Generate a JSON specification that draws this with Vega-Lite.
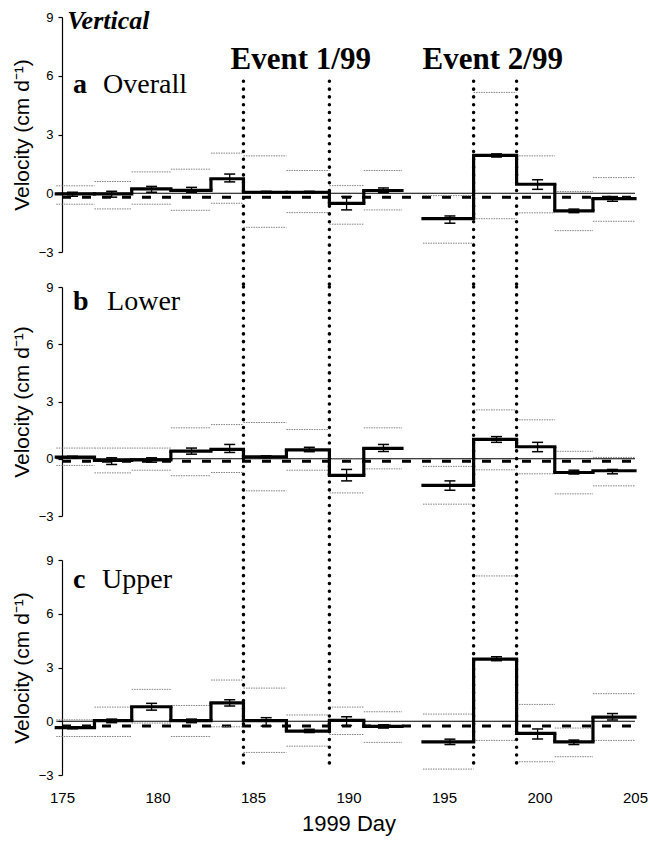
{
"$schema": "https://vega.github.io/schema/vega-lite/v6.json",
"padding": {"left": 11, "top": 7, "right": 0, "bottom": 5},
"config": {
  "view": {"stroke": null},
  "font": "Liberation Sans",
  "axis": {"grid": false, "labelFont": "Liberation Sans", "titleFont": "Liberation Sans", "labelColor": "#000", "titleColor": "#000", "domainColor": "#000", "tickColor": "#000", "titleFontWeight": "normal"}
},
"datasets": {
  "seg": [
    {"panel":"a","x1":174.7,"x2":176.7,"xm":175.55,"v":-0.03,"lo":-0.15,"hi":0.05,"up":0.38,"dn":-0.56},
    {"panel":"a","x1":176.7,"x2":178.65,"xm":177.6,"v":-0.03,"lo":-0.2,"hi":0.1,"up":0.6,"dn":-0.8},
    {"panel":"a","x1":178.65,"x2":180.7,"xm":179.69,"v":0.22,"lo":0.05,"hi":0.35,"up":1.09,"dn":-0.56},
    {"panel":"a","x1":180.7,"x2":182.8,"xm":181.78,"v":0.15,"lo":0.05,"hi":0.3,"up":1.23,"dn":-0.87},
    {"panel":"a","x1":182.8,"x2":184.5,"xm":183.78,"v":0.74,"lo":0.58,"hi":0.98,"up":2.05,"dn":-0.51},
    {"panel":"a","x1":184.5,"x2":186.75,"xm":185.69,"v":0.05,"lo":0.0,"hi":0.1,"up":1.91,"dn":-1.74},
    {"panel":"a","x1":186.75,"x2":189.0,"xm":187.95,"v":0.05,"lo":0.0,"hi":0.1,"up":1.16,"dn":-0.99},
    {"panel":"a","x1":189.0,"x2":190.8,"xm":189.9,"v":-0.52,"lo":-0.85,"hi":-0.17,"up":0.39,"dn":-1.58},
    {"panel":"a","x1":190.8,"x2":192.8,"xm":191.83,"v":0.14,"lo":0.03,"hi":0.27,"up":1.16,"dn":-0.85},
    {"panel":"a","x1":193.9,"x2":196.55,"xm":195.31,"v":-1.3,"lo":-1.53,"hi":-1.16,"up":-0.12,"dn":-2.55},
    {"panel":"a","x1":196.55,"x2":198.8,"xm":197.75,"v":1.93,"lo":1.85,"hi":2.01,"up":5.15,"dn":-1.3},
    {"panel":"a","x1":198.8,"x2":200.8,"xm":199.9,"v":0.46,"lo":0.2,"hi":0.69,"up":1.91,"dn":-1.0},
    {"panel":"a","x1":200.8,"x2":202.8,"xm":201.8,"v":-0.9,"lo":-0.99,"hi":-0.81,"up":0.09,"dn":-1.91},
    {"panel":"a","x1":202.8,"x2":205.0,"xm":203.82,"v":-0.27,"lo":-0.41,"hi":-0.17,"up":0.8,"dn":-1.43},

    {"panel":"b","x1":174.7,"x2":176.7,"xm":175.55,"v":0.08,"lo":0.02,"hi":0.13,"up":0.56,"dn":-0.35},
    {"panel":"b","x1":176.7,"x2":178.65,"xm":177.6,"v":-0.08,"lo":-0.3,"hi":0.05,"up":0.56,"dn":-0.74},
    {"panel":"b","x1":178.65,"x2":180.7,"xm":179.69,"v":-0.06,"lo":-0.18,"hi":0.05,"up":0.56,"dn":-0.6},
    {"panel":"b","x1":180.7,"x2":182.8,"xm":181.78,"v":0.4,"lo":0.24,"hi":0.56,"up":1.62,"dn":-0.89},
    {"panel":"b","x1":182.8,"x2":184.5,"xm":183.78,"v":0.49,"lo":0.33,"hi":0.75,"up":1.79,"dn":-0.72},
    {"panel":"b","x1":184.5,"x2":186.75,"xm":185.69,"v":0.1,"lo":0.05,"hi":0.15,"up":1.9,"dn":-1.68},
    {"panel":"b","x1":186.75,"x2":189.0,"xm":187.95,"v":0.47,"lo":0.37,"hi":0.6,"up":1.53,"dn":-0.6},
    {"panel":"b","x1":189.0,"x2":190.8,"xm":189.9,"v":-0.87,"lo":-1.16,"hi":-0.56,"up":0.0,"dn":-1.79},
    {"panel":"b","x1":190.8,"x2":192.8,"xm":191.83,"v":0.54,"lo":0.38,"hi":0.75,"up":1.62,"dn":-0.53},
    {"panel":"b","x1":193.9,"x2":196.55,"xm":195.31,"v":-1.4,"lo":-1.65,"hi":-1.16,"up":-0.4,"dn":-2.38},
    {"panel":"b","x1":196.55,"x2":198.8,"xm":197.75,"v":1.02,"lo":0.86,"hi":1.16,"up":2.56,"dn":-0.58},
    {"panel":"b","x1":198.8,"x2":200.8,"xm":199.9,"v":0.63,"lo":0.37,"hi":0.86,"up":2.04,"dn":-0.79},
    {"panel":"b","x1":200.8,"x2":202.8,"xm":201.8,"v":-0.72,"lo":-0.8,"hi":-0.6,"up":0.39,"dn":-1.84},
    {"panel":"b","x1":202.8,"x2":205.0,"xm":203.82,"v":-0.63,"lo":-0.79,"hi":-0.56,"up":0.07,"dn":-1.42},

    {"panel":"c","x1":174.7,"x2":176.7,"xm":175.55,"v":-0.36,"lo":-0.42,"hi":-0.3,"up":0.08,"dn":-0.85},
    {"panel":"c","x1":176.7,"x2":178.65,"xm":177.6,"v":0.03,"lo":-0.08,"hi":0.12,"up":0.79,"dn":-0.85},
    {"panel":"c","x1":178.65,"x2":180.7,"xm":179.69,"v":0.81,"lo":0.62,"hi":1.0,"up":1.78,"dn":-0.1},
    {"panel":"c","x1":180.7,"x2":182.8,"xm":181.78,"v":0.03,"lo":-0.08,"hi":0.12,"up":0.88,"dn":-0.85},
    {"panel":"c","x1":182.8,"x2":184.5,"xm":183.78,"v":1.03,"lo":0.85,"hi":1.2,"up":2.3,"dn":-0.31},
    {"panel":"c","x1":184.5,"x2":186.75,"xm":185.69,"v":0.03,"lo":-0.27,"hi":0.2,"up":1.85,"dn":-1.74},
    {"panel":"c","x1":186.75,"x2":189.0,"xm":187.95,"v":-0.55,"lo":-0.63,"hi":-0.45,"up":0.35,"dn":-1.39},
    {"panel":"c","x1":189.0,"x2":190.8,"xm":189.9,"v":0.05,"lo":-0.24,"hi":0.25,"up":0.79,"dn":-0.74},
    {"panel":"c","x1":190.8,"x2":192.8,"xm":191.83,"v":-0.29,"lo":-0.38,"hi":-0.2,"up":0.53,"dn":-1.18},
    {"panel":"c","x1":193.9,"x2":196.55,"xm":195.31,"v":-1.15,"lo":-1.3,"hi":-1.0,"up":0.4,"dn":-2.67},
    {"panel":"c","x1":196.55,"x2":198.8,"xm":197.75,"v":3.47,"lo":3.38,"hi":3.6,"up":8.11,"dn":-1.07},
    {"panel":"c","x1":198.8,"x2":200.8,"xm":199.9,"v":-0.68,"lo":-0.99,"hi":-0.43,"up":0.94,"dn":-2.26},
    {"panel":"c","x1":200.8,"x2":202.8,"xm":201.8,"v":-1.15,"lo":-1.3,"hi":-1.05,"up":-0.38,"dn":-1.98},
    {"panel":"c","x1":202.8,"x2":205.0,"xm":203.82,"v":0.23,"lo":0.07,"hi":0.43,"up":1.54,"dn":-1.07}
  ],
  "refs": [
    {"panel":"a","kind":"zero","y":0,"x1":174.7,"x2":205},
    {"panel":"a","kind":"mean","y":-0.2,"x1":175,"x2":205},
    {"panel":"b","kind":"zero","y":0,"x1":174.7,"x2":205},
    {"panel":"b","kind":"mean","y":-0.13,"x1":175,"x2":205},
    {"panel":"c","kind":"zero","y":0,"x1":174.7,"x2":205},
    {"panel":"c","kind":"mean","y":-0.27,"x1":175,"x2":205}
  ],
  "events": [
    {"panel":"a","x":184.5,"top":5.72,"bottom":-4.79},
    {"panel":"a","x":189.0,"top":5.72,"bottom":-4.79},
    {"panel":"a","x":196.55,"top":5.72,"bottom":-4.79},
    {"panel":"a","x":198.8,"top":5.72,"bottom":-4.79},
    {"panel":"b","x":184.5,"top":9,"bottom":-5.28},
    {"panel":"b","x":189.0,"top":9,"bottom":-5.28},
    {"panel":"b","x":196.55,"top":9,"bottom":-5.28},
    {"panel":"b","x":198.8,"top":9,"bottom":-5.28},
    {"panel":"c","x":184.5,"top":9,"bottom":-2.71},
    {"panel":"c","x":189.0,"top":9,"bottom":-2.71},
    {"panel":"c","x":196.55,"top":9,"bottom":-2.71},
    {"panel":"c","x":198.8,"top":9,"bottom":-2.71}
  ],
  "labels": [
    {"panel":"a","kind":"title","x":175.27,"y":8.41,"text":"Vertical"},
    {"panel":"a","kind":"letter","x":175.57,"y":5.11,"text":"a"},
    {"panel":"a","kind":"name","x":177.15,"y":5.11,"text":"Overall"},
    {"panel":"a","kind":"event","x":187.5,"y":6.32,"text":"Event 1/99"},
    {"panel":"a","kind":"event","x":197.55,"y":6.32,"text":"Event 2/99"},
    {"panel":"b","kind":"letter","x":175.58,"y":7.77,"text":"b"},
    {"panel":"b","kind":"name","x":177.36,"y":7.77,"text":"Lower"},
    {"panel":"c","kind":"letter","x":175.57,"y":7.45,"text":"c"},
    {"panel":"c","kind":"name","x":177.1,"y":7.45,"text":"Upper"}
  ]
},
"bounds": "flush",
"spacing": 35,
"vconcat": [
  {
    "width": 573, "height": 235,
    "layer": [
      {"data": {"name": "refs"}, "transform": [{"filter": "datum.panel == 'a' && datum.kind == 'zero'"}],
       "mark": {"type": "rule", "color": "#000", "strokeWidth": 1},
       "encoding": {"x": {"field": "x1", "type": "quantitative", "scale": {"domain": [175, 205], "nice": false, "zero": false}, "axis": null},
                    "x2": {"field": "x2"},
                    "y": {"field": "y", "type": "quantitative", "scale": {"domain": [-3, 9], "nice": false, "zero": false}, "axis": {"values": [-3, 0, 3, 6, 9], "title": "Velocity (cm d⁻¹)", "labelFontSize": 13, "titleFontSize": 21, "tickSize": 4, "labelPadding": 5, "titlePadding": 6, "domainWidth": 1.2, "tickWidth": 1.2}}}},
      {"data": {"name": "refs"}, "transform": [{"filter": "datum.panel == 'a' && datum.kind == 'mean'"}],
       "mark": {"type": "rule", "color": "#000", "strokeWidth": 3, "strokeDash": [9, 11]},
       "encoding": {"x": {"field": "x1", "type": "quantitative", "scale": {"domain": [175, 205], "nice": false, "zero": false}, "axis": null},
                    "x2": {"field": "x2"},
                    "y": {"field": "y", "type": "quantitative", "scale": {"domain": [-3, 9], "nice": false, "zero": false}, "axis": {"values": [-3, 0, 3, 6, 9], "title": "Velocity (cm d⁻¹)", "labelFontSize": 13, "titleFontSize": 21, "tickSize": 4, "labelPadding": 5, "titlePadding": 6, "domainWidth": 1.2, "tickWidth": 1.2}}}},
      {"data": {"name": "seg"}, "transform": [{"filter": "datum.panel == 'a'"}, {"fold": ["up", "dn"], "as": ["bound", "bv"]}],
       "mark": {"type": "rule", "color": "#808080", "strokeWidth": 1, "strokeDash": [1.5, 1]},
       "encoding": {"x": {"field": "x1", "type": "quantitative", "scale": {"domain": [175, 205], "nice": false, "zero": false}, "axis": null},
                    "x2": {"field": "x2"},
                    "y": {"field": "bv", "type": "quantitative", "scale": {"domain": [-3, 9], "nice": false, "zero": false}, "axis": {"values": [-3, 0, 3, 6, 9], "title": "Velocity (cm d⁻¹)", "labelFontSize": 13, "titleFontSize": 21, "tickSize": 4, "labelPadding": 5, "titlePadding": 6, "domainWidth": 1.2, "tickWidth": 1.2}}}},
      {"data": {"name": "seg"}, "transform": [{"filter": "datum.panel == 'a'"}],
       "mark": {"type": "rule", "color": "#000", "strokeWidth": 3.2, "strokeCap": "square"},
       "encoding": {"x": {"field": "x1", "type": "quantitative", "scale": {"domain": [175, 205], "nice": false, "zero": false}, "axis": null},
                    "x2": {"field": "x2"},
                    "y": {"field": "v", "type": "quantitative", "scale": {"domain": [-3, 9], "nice": false, "zero": false}, "axis": {"values": [-3, 0, 3, 6, 9], "title": "Velocity (cm d⁻¹)", "labelFontSize": 13, "titleFontSize": 21, "tickSize": 4, "labelPadding": 5, "titlePadding": 6, "domainWidth": 1.2, "tickWidth": 1.2}}}},
      {"data": {"name": "seg"}, "transform": [{"filter": "datum.panel == 'a'"},
         {"window": [{"op": "lag", "field": "v", "as": "pv"}, {"op": "lag", "field": "x2", "as": "px2"}], "sort": [{"field": "x1"}]},
         {"filter": "datum.px2 != null && abs(datum.px2 - datum.x1) < 0.01"}],
       "mark": {"type": "rule", "color": "#000", "strokeWidth": 3.2},
       "encoding": {"x": {"field": "x1", "type": "quantitative", "scale": {"domain": [175, 205], "nice": false, "zero": false}, "axis": null},
                    "y": {"field": "pv", "type": "quantitative", "scale": {"domain": [-3, 9], "nice": false, "zero": false}, "axis": {"values": [-3, 0, 3, 6, 9], "title": "Velocity (cm d⁻¹)", "labelFontSize": 13, "titleFontSize": 21, "tickSize": 4, "labelPadding": 5, "titlePadding": 6, "domainWidth": 1.2, "tickWidth": 1.2}},
                    "y2": {"field": "v"}}},
      {"data": {"name": "seg"}, "transform": [{"filter": "datum.panel == 'a'"}],
       "mark": {"type": "rule", "color": "#000", "strokeWidth": 1.3},
       "encoding": {"x": {"field": "xm", "type": "quantitative", "scale": {"domain": [175, 205], "nice": false, "zero": false}, "axis": null},
                    "y": {"field": "lo", "type": "quantitative", "scale": {"domain": [-3, 9], "nice": false, "zero": false}, "axis": {"values": [-3, 0, 3, 6, 9], "title": "Velocity (cm d⁻¹)", "labelFontSize": 13, "titleFontSize": 21, "tickSize": 4, "labelPadding": 5, "titlePadding": 6, "domainWidth": 1.2, "tickWidth": 1.2}},
                    "y2": {"field": "hi"}}},
      {"data": {"name": "seg"}, "transform": [{"filter": "datum.panel == 'a'"}, {"fold": ["lo", "hi"], "as": ["end", "ev"]}],
       "mark": {"type": "tick", "orient": "horizontal", "color": "#000", "size": 11, "thickness": 1.5, "opacity": 1},
       "encoding": {"x": {"field": "xm", "type": "quantitative", "scale": {"domain": [175, 205], "nice": false, "zero": false}, "axis": null},
                    "y": {"field": "ev", "type": "quantitative", "scale": {"domain": [-3, 9], "nice": false, "zero": false}, "axis": {"values": [-3, 0, 3, 6, 9], "title": "Velocity (cm d⁻¹)", "labelFontSize": 13, "titleFontSize": 21, "tickSize": 4, "labelPadding": 5, "titlePadding": 6, "domainWidth": 1.2, "tickWidth": 1.2}}}},
      {"data": {"name": "events"}, "transform": [{"filter": "datum.panel == 'a'"}],
       "mark": {"type": "rule", "color": "#000", "strokeWidth": 3.5, "strokeDash": [0.1, 7.7], "strokeCap": "round"},
       "encoding": {"x": {"field": "x", "type": "quantitative", "scale": {"domain": [175, 205], "nice": false, "zero": false}, "axis": null},
                    "y": {"field": "top", "type": "quantitative", "scale": {"domain": [-3, 9], "nice": false, "zero": false}, "axis": {"values": [-3, 0, 3, 6, 9], "title": "Velocity (cm d⁻¹)", "labelFontSize": 13, "titleFontSize": 21, "tickSize": 4, "labelPadding": 5, "titlePadding": 6, "domainWidth": 1.2, "tickWidth": 1.2}},
                    "y2": {"field": "bottom"}}},
      {"data": {"name": "labels"}, "transform": [{"filter": "datum.panel == 'a' && datum.kind == 'title'"}],
       "mark": {"type": "text", "font": "Liberation Serif", "fontSize": 26, "fontWeight": "bold", "fontStyle": "italic", "align": "left", "baseline": "alphabetic", "color": "#000"},
       "encoding": {"x": {"field": "x", "type": "quantitative", "scale": {"domain": [175, 205], "nice": false, "zero": false}, "axis": null},
                    "y": {"field": "y", "type": "quantitative", "scale": {"domain": [-3, 9], "nice": false, "zero": false}, "axis": {"values": [-3, 0, 3, 6, 9], "title": "Velocity (cm d⁻¹)", "labelFontSize": 13, "titleFontSize": 21, "tickSize": 4, "labelPadding": 5, "titlePadding": 6, "domainWidth": 1.2, "tickWidth": 1.2}},
                    "text": {"field": "text"}}},
      {"data": {"name": "labels"}, "transform": [{"filter": "datum.panel == 'a' && datum.kind == 'letter'"}],
       "mark": {"type": "text", "font": "Liberation Serif", "fontSize": 28, "fontWeight": "bold", "align": "left", "baseline": "alphabetic", "color": "#000"},
       "encoding": {"x": {"field": "x", "type": "quantitative", "scale": {"domain": [175, 205], "nice": false, "zero": false}, "axis": null},
                    "y": {"field": "y", "type": "quantitative", "scale": {"domain": [-3, 9], "nice": false, "zero": false}, "axis": {"values": [-3, 0, 3, 6, 9], "title": "Velocity (cm d⁻¹)", "labelFontSize": 13, "titleFontSize": 21, "tickSize": 4, "labelPadding": 5, "titlePadding": 6, "domainWidth": 1.2, "tickWidth": 1.2}},
                    "text": {"field": "text"}}},
      {"data": {"name": "labels"}, "transform": [{"filter": "datum.panel == 'a' && datum.kind == 'name'"}],
       "mark": {"type": "text", "font": "Liberation Serif", "fontSize": 28, "fontWeight": "normal", "align": "left", "baseline": "alphabetic", "color": "#000"},
       "encoding": {"x": {"field": "x", "type": "quantitative", "scale": {"domain": [175, 205], "nice": false, "zero": false}, "axis": null},
                    "y": {"field": "y", "type": "quantitative", "scale": {"domain": [-3, 9], "nice": false, "zero": false}, "axis": {"values": [-3, 0, 3, 6, 9], "title": "Velocity (cm d⁻¹)", "labelFontSize": 13, "titleFontSize": 21, "tickSize": 4, "labelPadding": 5, "titlePadding": 6, "domainWidth": 1.2, "tickWidth": 1.2}},
                    "text": {"field": "text"}}},
      {"data": {"name": "labels"}, "transform": [{"filter": "datum.panel == 'a' && datum.kind == 'event'"}],
       "mark": {"type": "text", "font": "Liberation Serif", "fontSize": 31, "fontWeight": "bold", "align": "center", "baseline": "alphabetic", "color": "#000"},
       "encoding": {"x": {"field": "x", "type": "quantitative", "scale": {"domain": [175, 205], "nice": false, "zero": false}, "axis": null},
                    "y": {"field": "y", "type": "quantitative", "scale": {"domain": [-3, 9], "nice": false, "zero": false}, "axis": {"values": [-3, 0, 3, 6, 9], "title": "Velocity (cm d⁻¹)", "labelFontSize": 13, "titleFontSize": 21, "tickSize": 4, "labelPadding": 5, "titlePadding": 6, "domainWidth": 1.2, "tickWidth": 1.2}},
                    "text": {"field": "text"}}}
    ]
  },
  {
    "bounds": "flush",
    "spacing": 44,
    "vconcat": [
      {
        "width": 573, "height": 229,
        "layer": [
          {"data": {"name": "refs"}, "transform": [{"filter": "datum.panel == 'b' && datum.kind == 'zero'"}],
           "mark": {"type": "rule", "color": "#000", "strokeWidth": 1},
           "encoding": {"x": {"field": "x1", "type": "quantitative", "scale": {"domain": [175, 205], "nice": false, "zero": false}, "axis": null},
                        "x2": {"field": "x2"},
                        "y": {"field": "y", "type": "quantitative", "scale": {"domain": [-3, 9], "nice": false, "zero": false}, "axis": {"values": [-3, 0, 3, 6, 9], "title": "Velocity (cm d⁻¹)", "labelFontSize": 13, "titleFontSize": 21, "tickSize": 4, "labelPadding": 5, "titlePadding": 6, "domainWidth": 1.2, "tickWidth": 1.2}}}},
          {"data": {"name": "refs"}, "transform": [{"filter": "datum.panel == 'b' && datum.kind == 'mean'"}],
           "mark": {"type": "rule", "color": "#000", "strokeWidth": 3, "strokeDash": [9, 11]},
           "encoding": {"x": {"field": "x1", "type": "quantitative", "scale": {"domain": [175, 205], "nice": false, "zero": false}, "axis": null},
                        "x2": {"field": "x2"},
                        "y": {"field": "y", "type": "quantitative", "scale": {"domain": [-3, 9], "nice": false, "zero": false}, "axis": {"values": [-3, 0, 3, 6, 9], "title": "Velocity (cm d⁻¹)", "labelFontSize": 13, "titleFontSize": 21, "tickSize": 4, "labelPadding": 5, "titlePadding": 6, "domainWidth": 1.2, "tickWidth": 1.2}}}},
          {"data": {"name": "seg"}, "transform": [{"filter": "datum.panel == 'b'"}, {"fold": ["up", "dn"], "as": ["bound", "bv"]}],
           "mark": {"type": "rule", "color": "#808080", "strokeWidth": 1, "strokeDash": [1.5, 1]},
           "encoding": {"x": {"field": "x1", "type": "quantitative", "scale": {"domain": [175, 205], "nice": false, "zero": false}, "axis": null},
                        "x2": {"field": "x2"},
                        "y": {"field": "bv", "type": "quantitative", "scale": {"domain": [-3, 9], "nice": false, "zero": false}, "axis": {"values": [-3, 0, 3, 6, 9], "title": "Velocity (cm d⁻¹)", "labelFontSize": 13, "titleFontSize": 21, "tickSize": 4, "labelPadding": 5, "titlePadding": 6, "domainWidth": 1.2, "tickWidth": 1.2}}}},
          {"data": {"name": "seg"}, "transform": [{"filter": "datum.panel == 'b'"}],
           "mark": {"type": "rule", "color": "#000", "strokeWidth": 3.2, "strokeCap": "square"},
           "encoding": {"x": {"field": "x1", "type": "quantitative", "scale": {"domain": [175, 205], "nice": false, "zero": false}, "axis": null},
                        "x2": {"field": "x2"},
                        "y": {"field": "v", "type": "quantitative", "scale": {"domain": [-3, 9], "nice": false, "zero": false}, "axis": {"values": [-3, 0, 3, 6, 9], "title": "Velocity (cm d⁻¹)", "labelFontSize": 13, "titleFontSize": 21, "tickSize": 4, "labelPadding": 5, "titlePadding": 6, "domainWidth": 1.2, "tickWidth": 1.2}}}},
          {"data": {"name": "seg"}, "transform": [{"filter": "datum.panel == 'b'"},
             {"window": [{"op": "lag", "field": "v", "as": "pv"}, {"op": "lag", "field": "x2", "as": "px2"}], "sort": [{"field": "x1"}]},
             {"filter": "datum.px2 != null && abs(datum.px2 - datum.x1) < 0.01"}],
           "mark": {"type": "rule", "color": "#000", "strokeWidth": 3.2},
           "encoding": {"x": {"field": "x1", "type": "quantitative", "scale": {"domain": [175, 205], "nice": false, "zero": false}, "axis": null},
                        "y": {"field": "pv", "type": "quantitative", "scale": {"domain": [-3, 9], "nice": false, "zero": false}, "axis": {"values": [-3, 0, 3, 6, 9], "title": "Velocity (cm d⁻¹)", "labelFontSize": 13, "titleFontSize": 21, "tickSize": 4, "labelPadding": 5, "titlePadding": 6, "domainWidth": 1.2, "tickWidth": 1.2}},
                        "y2": {"field": "v"}}},
          {"data": {"name": "seg"}, "transform": [{"filter": "datum.panel == 'b'"}],
           "mark": {"type": "rule", "color": "#000", "strokeWidth": 1.3},
           "encoding": {"x": {"field": "xm", "type": "quantitative", "scale": {"domain": [175, 205], "nice": false, "zero": false}, "axis": null},
                        "y": {"field": "lo", "type": "quantitative", "scale": {"domain": [-3, 9], "nice": false, "zero": false}, "axis": {"values": [-3, 0, 3, 6, 9], "title": "Velocity (cm d⁻¹)", "labelFontSize": 13, "titleFontSize": 21, "tickSize": 4, "labelPadding": 5, "titlePadding": 6, "domainWidth": 1.2, "tickWidth": 1.2}},
                        "y2": {"field": "hi"}}},
          {"data": {"name": "seg"}, "transform": [{"filter": "datum.panel == 'b'"}, {"fold": ["lo", "hi"], "as": ["end", "ev"]}],
           "mark": {"type": "tick", "orient": "horizontal", "color": "#000", "size": 11, "thickness": 1.5, "opacity": 1},
           "encoding": {"x": {"field": "xm", "type": "quantitative", "scale": {"domain": [175, 205], "nice": false, "zero": false}, "axis": null},
                        "y": {"field": "ev", "type": "quantitative", "scale": {"domain": [-3, 9], "nice": false, "zero": false}, "axis": {"values": [-3, 0, 3, 6, 9], "title": "Velocity (cm d⁻¹)", "labelFontSize": 13, "titleFontSize": 21, "tickSize": 4, "labelPadding": 5, "titlePadding": 6, "domainWidth": 1.2, "tickWidth": 1.2}}}},
          {"data": {"name": "events"}, "transform": [{"filter": "datum.panel == 'b'"}],
           "mark": {"type": "rule", "color": "#000", "strokeWidth": 3.5, "strokeDash": [0.1, 7.7], "strokeCap": "round"},
           "encoding": {"x": {"field": "x", "type": "quantitative", "scale": {"domain": [175, 205], "nice": false, "zero": false}, "axis": null},
                        "y": {"field": "top", "type": "quantitative", "scale": {"domain": [-3, 9], "nice": false, "zero": false}, "axis": {"values": [-3, 0, 3, 6, 9], "title": "Velocity (cm d⁻¹)", "labelFontSize": 13, "titleFontSize": 21, "tickSize": 4, "labelPadding": 5, "titlePadding": 6, "domainWidth": 1.2, "tickWidth": 1.2}},
                        "y2": {"field": "bottom"}}},
          {"data": {"name": "labels"}, "transform": [{"filter": "datum.panel == 'b' && datum.kind == 'letter'"}],
           "mark": {"type": "text", "font": "Liberation Serif", "fontSize": 28, "fontWeight": "bold", "align": "left", "baseline": "alphabetic", "color": "#000"},
           "encoding": {"x": {"field": "x", "type": "quantitative", "scale": {"domain": [175, 205], "nice": false, "zero": false}, "axis": null},
                        "y": {"field": "y", "type": "quantitative", "scale": {"domain": [-3, 9], "nice": false, "zero": false}, "axis": {"values": [-3, 0, 3, 6, 9], "title": "Velocity (cm d⁻¹)", "labelFontSize": 13, "titleFontSize": 21, "tickSize": 4, "labelPadding": 5, "titlePadding": 6, "domainWidth": 1.2, "tickWidth": 1.2}},
                        "text": {"field": "text"}}},
          {"data": {"name": "labels"}, "transform": [{"filter": "datum.panel == 'b' && datum.kind == 'name'"}],
           "mark": {"type": "text", "font": "Liberation Serif", "fontSize": 28, "fontWeight": "normal", "align": "left", "baseline": "alphabetic", "color": "#000"},
           "encoding": {"x": {"field": "x", "type": "quantitative", "scale": {"domain": [175, 205], "nice": false, "zero": false}, "axis": null},
                        "y": {"field": "y", "type": "quantitative", "scale": {"domain": [-3, 9], "nice": false, "zero": false}, "axis": {"values": [-3, 0, 3, 6, 9], "title": "Velocity (cm d⁻¹)", "labelFontSize": 13, "titleFontSize": 21, "tickSize": 4, "labelPadding": 5, "titlePadding": 6, "domainWidth": 1.2, "tickWidth": 1.2}},
                        "text": {"field": "text"}}}
        ]
      },
      {
        "width": 573, "height": 215,
        "layer": [
          {"data": {"name": "refs"}, "transform": [{"filter": "datum.panel == 'c' && datum.kind == 'zero'"}],
           "mark": {"type": "rule", "color": "#000", "strokeWidth": 1},
           "encoding": {"x": {"field": "x1", "type": "quantitative", "scale": {"domain": [175, 205], "nice": false, "zero": false}, "axis": {"values": [175, 180, 185, 190, 195, 200, 205], "title": "1999 Day", "domain": false, "ticks": false, "labelFlush": false, "labelFontSize": 15, "titleFontSize": 22, "labelPadding": 15, "titlePadding": 8}},
                        "x2": {"field": "x2"},
                        "y": {"field": "y", "type": "quantitative", "scale": {"domain": [-3, 9], "nice": false, "zero": false}, "axis": {"values": [-3, 0, 3, 6, 9], "title": "Velocity (cm d⁻¹)", "labelFontSize": 13, "titleFontSize": 21, "tickSize": 4, "labelPadding": 5, "titlePadding": 6, "domainWidth": 1.2, "tickWidth": 1.2}}}},
          {"data": {"name": "refs"}, "transform": [{"filter": "datum.panel == 'c' && datum.kind == 'mean'"}],
           "mark": {"type": "rule", "color": "#000", "strokeWidth": 3, "strokeDash": [9, 11]},
           "encoding": {"x": {"field": "x1", "type": "quantitative", "scale": {"domain": [175, 205], "nice": false, "zero": false}, "axis": {"values": [175, 180, 185, 190, 195, 200, 205], "title": "1999 Day", "domain": false, "ticks": false, "labelFlush": false, "labelFontSize": 15, "titleFontSize": 22, "labelPadding": 15, "titlePadding": 8}},
                        "x2": {"field": "x2"},
                        "y": {"field": "y", "type": "quantitative", "scale": {"domain": [-3, 9], "nice": false, "zero": false}, "axis": {"values": [-3, 0, 3, 6, 9], "title": "Velocity (cm d⁻¹)", "labelFontSize": 13, "titleFontSize": 21, "tickSize": 4, "labelPadding": 5, "titlePadding": 6, "domainWidth": 1.2, "tickWidth": 1.2}}}},
          {"data": {"name": "seg"}, "transform": [{"filter": "datum.panel == 'c'"}, {"fold": ["up", "dn"], "as": ["bound", "bv"]}],
           "mark": {"type": "rule", "color": "#808080", "strokeWidth": 1, "strokeDash": [1.5, 1]},
           "encoding": {"x": {"field": "x1", "type": "quantitative", "scale": {"domain": [175, 205], "nice": false, "zero": false}, "axis": {"values": [175, 180, 185, 190, 195, 200, 205], "title": "1999 Day", "domain": false, "ticks": false, "labelFlush": false, "labelFontSize": 15, "titleFontSize": 22, "labelPadding": 15, "titlePadding": 8}},
                        "x2": {"field": "x2"},
                        "y": {"field": "bv", "type": "quantitative", "scale": {"domain": [-3, 9], "nice": false, "zero": false}, "axis": {"values": [-3, 0, 3, 6, 9], "title": "Velocity (cm d⁻¹)", "labelFontSize": 13, "titleFontSize": 21, "tickSize": 4, "labelPadding": 5, "titlePadding": 6, "domainWidth": 1.2, "tickWidth": 1.2}}}},
          {"data": {"name": "seg"}, "transform": [{"filter": "datum.panel == 'c'"}],
           "mark": {"type": "rule", "color": "#000", "strokeWidth": 3.2, "strokeCap": "square"},
           "encoding": {"x": {"field": "x1", "type": "quantitative", "scale": {"domain": [175, 205], "nice": false, "zero": false}, "axis": {"values": [175, 180, 185, 190, 195, 200, 205], "title": "1999 Day", "domain": false, "ticks": false, "labelFlush": false, "labelFontSize": 15, "titleFontSize": 22, "labelPadding": 15, "titlePadding": 8}},
                        "x2": {"field": "x2"},
                        "y": {"field": "v", "type": "quantitative", "scale": {"domain": [-3, 9], "nice": false, "zero": false}, "axis": {"values": [-3, 0, 3, 6, 9], "title": "Velocity (cm d⁻¹)", "labelFontSize": 13, "titleFontSize": 21, "tickSize": 4, "labelPadding": 5, "titlePadding": 6, "domainWidth": 1.2, "tickWidth": 1.2}}}},
          {"data": {"name": "seg"}, "transform": [{"filter": "datum.panel == 'c'"},
             {"window": [{"op": "lag", "field": "v", "as": "pv"}, {"op": "lag", "field": "x2", "as": "px2"}], "sort": [{"field": "x1"}]},
             {"filter": "datum.px2 != null && abs(datum.px2 - datum.x1) < 0.01"}],
           "mark": {"type": "rule", "color": "#000", "strokeWidth": 3.2},
           "encoding": {"x": {"field": "x1", "type": "quantitative", "scale": {"domain": [175, 205], "nice": false, "zero": false}, "axis": {"values": [175, 180, 185, 190, 195, 200, 205], "title": "1999 Day", "domain": false, "ticks": false, "labelFlush": false, "labelFontSize": 15, "titleFontSize": 22, "labelPadding": 15, "titlePadding": 8}},
                        "y": {"field": "pv", "type": "quantitative", "scale": {"domain": [-3, 9], "nice": false, "zero": false}, "axis": {"values": [-3, 0, 3, 6, 9], "title": "Velocity (cm d⁻¹)", "labelFontSize": 13, "titleFontSize": 21, "tickSize": 4, "labelPadding": 5, "titlePadding": 6, "domainWidth": 1.2, "tickWidth": 1.2}},
                        "y2": {"field": "v"}}},
          {"data": {"name": "seg"}, "transform": [{"filter": "datum.panel == 'c'"}],
           "mark": {"type": "rule", "color": "#000", "strokeWidth": 1.3},
           "encoding": {"x": {"field": "xm", "type": "quantitative", "scale": {"domain": [175, 205], "nice": false, "zero": false}, "axis": {"values": [175, 180, 185, 190, 195, 200, 205], "title": "1999 Day", "domain": false, "ticks": false, "labelFlush": false, "labelFontSize": 15, "titleFontSize": 22, "labelPadding": 15, "titlePadding": 8}},
                        "y": {"field": "lo", "type": "quantitative", "scale": {"domain": [-3, 9], "nice": false, "zero": false}, "axis": {"values": [-3, 0, 3, 6, 9], "title": "Velocity (cm d⁻¹)", "labelFontSize": 13, "titleFontSize": 21, "tickSize": 4, "labelPadding": 5, "titlePadding": 6, "domainWidth": 1.2, "tickWidth": 1.2}},
                        "y2": {"field": "hi"}}},
          {"data": {"name": "seg"}, "transform": [{"filter": "datum.panel == 'c'"}, {"fold": ["lo", "hi"], "as": ["end", "ev"]}],
           "mark": {"type": "tick", "orient": "horizontal", "color": "#000", "size": 11, "thickness": 1.5, "opacity": 1},
           "encoding": {"x": {"field": "xm", "type": "quantitative", "scale": {"domain": [175, 205], "nice": false, "zero": false}, "axis": {"values": [175, 180, 185, 190, 195, 200, 205], "title": "1999 Day", "domain": false, "ticks": false, "labelFlush": false, "labelFontSize": 15, "titleFontSize": 22, "labelPadding": 15, "titlePadding": 8}},
                        "y": {"field": "ev", "type": "quantitative", "scale": {"domain": [-3, 9], "nice": false, "zero": false}, "axis": {"values": [-3, 0, 3, 6, 9], "title": "Velocity (cm d⁻¹)", "labelFontSize": 13, "titleFontSize": 21, "tickSize": 4, "labelPadding": 5, "titlePadding": 6, "domainWidth": 1.2, "tickWidth": 1.2}}}},
          {"data": {"name": "events"}, "transform": [{"filter": "datum.panel == 'c'"}],
           "mark": {"type": "rule", "color": "#000", "strokeWidth": 3.5, "strokeDash": [0.1, 7.7], "strokeCap": "round"},
           "encoding": {"x": {"field": "x", "type": "quantitative", "scale": {"domain": [175, 205], "nice": false, "zero": false}, "axis": {"values": [175, 180, 185, 190, 195, 200, 205], "title": "1999 Day", "domain": false, "ticks": false, "labelFlush": false, "labelFontSize": 15, "titleFontSize": 22, "labelPadding": 15, "titlePadding": 8}},
                        "y": {"field": "top", "type": "quantitative", "scale": {"domain": [-3, 9], "nice": false, "zero": false}, "axis": {"values": [-3, 0, 3, 6, 9], "title": "Velocity (cm d⁻¹)", "labelFontSize": 13, "titleFontSize": 21, "tickSize": 4, "labelPadding": 5, "titlePadding": 6, "domainWidth": 1.2, "tickWidth": 1.2}},
                        "y2": {"field": "bottom"}}},
          {"data": {"name": "labels"}, "transform": [{"filter": "datum.panel == 'c' && datum.kind == 'letter'"}],
           "mark": {"type": "text", "font": "Liberation Serif", "fontSize": 28, "fontWeight": "bold", "align": "left", "baseline": "alphabetic", "color": "#000"},
           "encoding": {"x": {"field": "x", "type": "quantitative", "scale": {"domain": [175, 205], "nice": false, "zero": false}, "axis": {"values": [175, 180, 185, 190, 195, 200, 205], "title": "1999 Day", "domain": false, "ticks": false, "labelFlush": false, "labelFontSize": 15, "titleFontSize": 22, "labelPadding": 15, "titlePadding": 8}},
                        "y": {"field": "y", "type": "quantitative", "scale": {"domain": [-3, 9], "nice": false, "zero": false}, "axis": {"values": [-3, 0, 3, 6, 9], "title": "Velocity (cm d⁻¹)", "labelFontSize": 13, "titleFontSize": 21, "tickSize": 4, "labelPadding": 5, "titlePadding": 6, "domainWidth": 1.2, "tickWidth": 1.2}},
                        "text": {"field": "text"}}},
          {"data": {"name": "labels"}, "transform": [{"filter": "datum.panel == 'c' && datum.kind == 'name'"}],
           "mark": {"type": "text", "font": "Liberation Serif", "fontSize": 28, "fontWeight": "normal", "align": "left", "baseline": "alphabetic", "color": "#000"},
           "encoding": {"x": {"field": "x", "type": "quantitative", "scale": {"domain": [175, 205], "nice": false, "zero": false}, "axis": {"values": [175, 180, 185, 190, 195, 200, 205], "title": "1999 Day", "domain": false, "ticks": false, "labelFlush": false, "labelFontSize": 15, "titleFontSize": 22, "labelPadding": 15, "titlePadding": 8}},
                        "y": {"field": "y", "type": "quantitative", "scale": {"domain": [-3, 9], "nice": false, "zero": false}, "axis": {"values": [-3, 0, 3, 6, 9], "title": "Velocity (cm d⁻¹)", "labelFontSize": 13, "titleFontSize": 21, "tickSize": 4, "labelPadding": 5, "titlePadding": 6, "domainWidth": 1.2, "tickWidth": 1.2}},
                        "text": {"field": "text"}}}
        ]
      }
    ]
  }
]
}
